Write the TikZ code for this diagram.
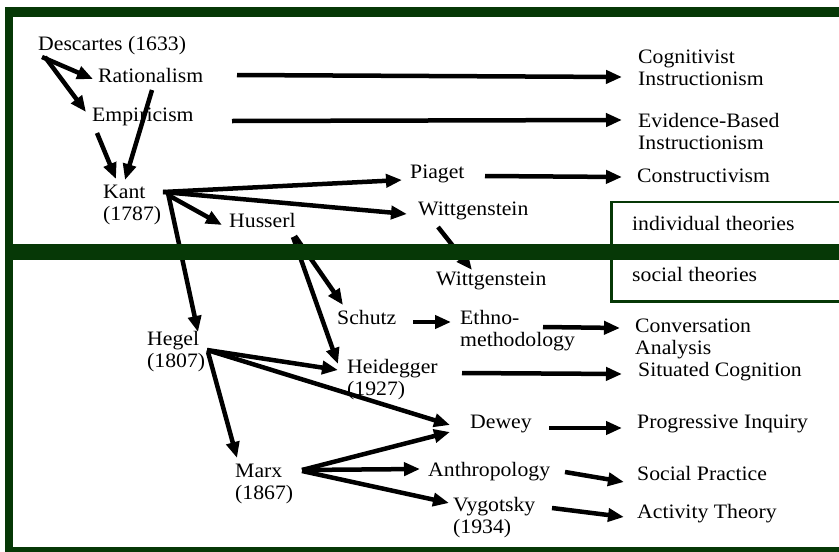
\documentclass[tikz,border=0pt]{standalone}
\usepackage{fontspec}
\setmainfont{Liberation Serif}[FakeStretch=1.06]
\usetikzlibrary{arrows.meta,calc}
\definecolor{framegreen}{RGB}{6,56,6}
\begin{document}
\begin{tikzpicture}[x=1pt,y=-1pt,
  lbl/.style={inner sep=0pt, anchor=base west, align=left, font={\fontsize{20.5}{22}\selectfont}},
  arr/.style={line width=4.5pt, -{Triangle[length=16pt,width=13pt]}},
  band/.style={fill=framegreen, draw=none}]
\useasboundingbox (0,0) rectangle (839,552);

% outer frame (open to the right)
\fill[band] (5,7) rectangle (839,17);
\fill[band] (5,7) rectangle (13,552);
\fill[band] (5,547) rectangle (839,552);

% legend box
\draw[framegreen, line width=2.5pt, fill=white] (611.5,202) rectangle (845,301.5);

% individual theories (two-line nodes sit on the baseline of their last line)
\node[lbl] (desc)  at (38,50)   {Descartes (1633)};
\node[lbl] (rat)   at (98,82)   {Rationalism};
\node[lbl] (emp)   at (92,121)  {Empiricism};
\node[lbl] (kant)  at (103,220) {Kant\\(1787)};
\node[lbl] (huss)  at (229,227) {Husserl};
\node[lbl] (piag)  at (410,178) {Piaget};
\node[lbl] (witA)  at (418,215) {Wittgenstein};
\node[lbl] (cogn)  at (638,85)  {Cognitivist\\Instructionism};
\node[lbl] (evid)  at (638,149) {Evidence-Based\\Instructionism};
\node[lbl] (cons)  at (637,182) {Constructivism};
\node[lbl] (ind)   at (632,230) {individual theories};

% social theories
\node[lbl] (soc)    at (632,281) {social theories};
\node[lbl] (witB)   at (436,285) {Wittgenstein};
\node[lbl] (schutz) at (337,324) {Schutz};
\node[lbl] (ethno)  at (460,346) {Ethno-\\methodology};
\node[lbl] (conv)   at (635,354) {Conversation\\Analysis};
\node[lbl] (sit)    at (638,376) {Situated Cognition};
\node[lbl] (hegel)  at (147,367) {Hegel\\(1807)};
\node[lbl] (heid)   at (347,395) {Heidegger\\(1927)};
\node[lbl] (dewey)  at (470,428) {Dewey};
\node[lbl] (prog)   at (637,428) {Progressive Inquiry};
\node[lbl] (marx)   at (235,499) {Marx\\(1867)};
\node[lbl] (anth)   at (428,476) {Anthropology};
\node[lbl] (socp)   at (637,480) {Social Practice};
\node[lbl] (vyg)    at (453,533) {Vygotsky\\(1934)};
\node[lbl] (act)    at (637,518) {Activity Theory};

% influences
\draw[arr] ($(desc.base west)+(4,7)$)   -- ($(rat.base west)+(-5,-3)$);
\draw[arr] ($(desc.base west)+(7,7)$)   -- ($(emp.base west)+(-6,-9)$);
\draw[arr] ($(emp.base west)+(5,12)$)   -- ($(kant.base west)+(13,-41)$);
\draw[arr] ($(rat.base west)+(54,8)$)   -- ($(kant.base west)+(22,-40)$);
\draw[arr] ($(rat.base west)+(139,-7)$) -- ($(cogn.base west)+(-16,-8)$);
\draw[arr] ($(emp.base west)+(140,0)$)  -- ($(evid.base west)+(-16,-29)$);
\draw[arr] ($(piag.base west)+(75,-2)$) -- ($(cons.base west)+(-15,-5)$);
\draw[arr] ($(kant.base west)+(60,-28)$) -- ($(piag.base west)+(-8,2)$);
\draw[arr] ($(kant.base west)+(60,-28)$) -- ($(witA.base west)+(-11,-1)$);
\draw[arr] ($(kant.base west)+(65,-25)$) -- ($(huss.base west)+(-7,-2)$);
\draw[arr] ($(kant.base west)+(65,-27)$) -- ($(hegel.base west)+(51,-35)$);
\draw[arr] ($(huss.base west)+(66,9)$)  -- ($(schutz.base west)+(6,-19)$);
\draw[arr] ($(huss.base west)+(64,10)$) -- ($(heid.base west)+(-9,-31)$);
\draw[arr] ($(witA.base west)+(20,12)$) -- ($(witB.base west)+(36,-15)$);
\draw[arr] ($(schutz.base west)+(76,-2)$) -- ($(ethno.base west)+(-9,-24)$);
\draw[arr] ($(ethno.base west)+(83,-19)$) -- ($(conv.base west)+(-15,-26)$);
\draw[arr] ($(heid.base west)+(115,-22)$) -- ($(sit.base west)+(-16,-2)$);
\draw[arr] ($(dewey.base west)+(79,0)$)   -- ($(prog.base west)+(-15,0)$);
\draw[arr] ($(anth.base west)+(137,-4)$)  -- ($(socp.base west)+(-13,2)$);
\draw[arr] ($(vyg.base west)+(99,-25)$)   -- ($(act.base west)+(-13,-1)$);
\draw[arr] ($(hegel.base west)+(60,-17)$) -- ($(heid.base west)+(-9,-25)$);
\draw[arr] ($(hegel.base west)+(60,-17)$) -- ($(dewey.base west)+(-20,-3)$);
\draw[arr] ($(hegel.base west)+(61,-15)$) -- ($(marx.base west)+(2,-41)$);
\draw[arr] ($(marx.base west)+(67,-29)$)  -- ($(dewey.base west)+(-20,4)$);
\draw[arr] ($(marx.base west)+(67,-29)$)  -- ($(anth.base west)+(-8,-7)$);
\draw[arr] ($(marx.base west)+(67,-28)$)  -- ($(vyg.base west)+(-4,-30)$);

% divider between individual and social theories
\fill[band] (5,244) rectangle (839,260);
\end{tikzpicture}
\end{document}
